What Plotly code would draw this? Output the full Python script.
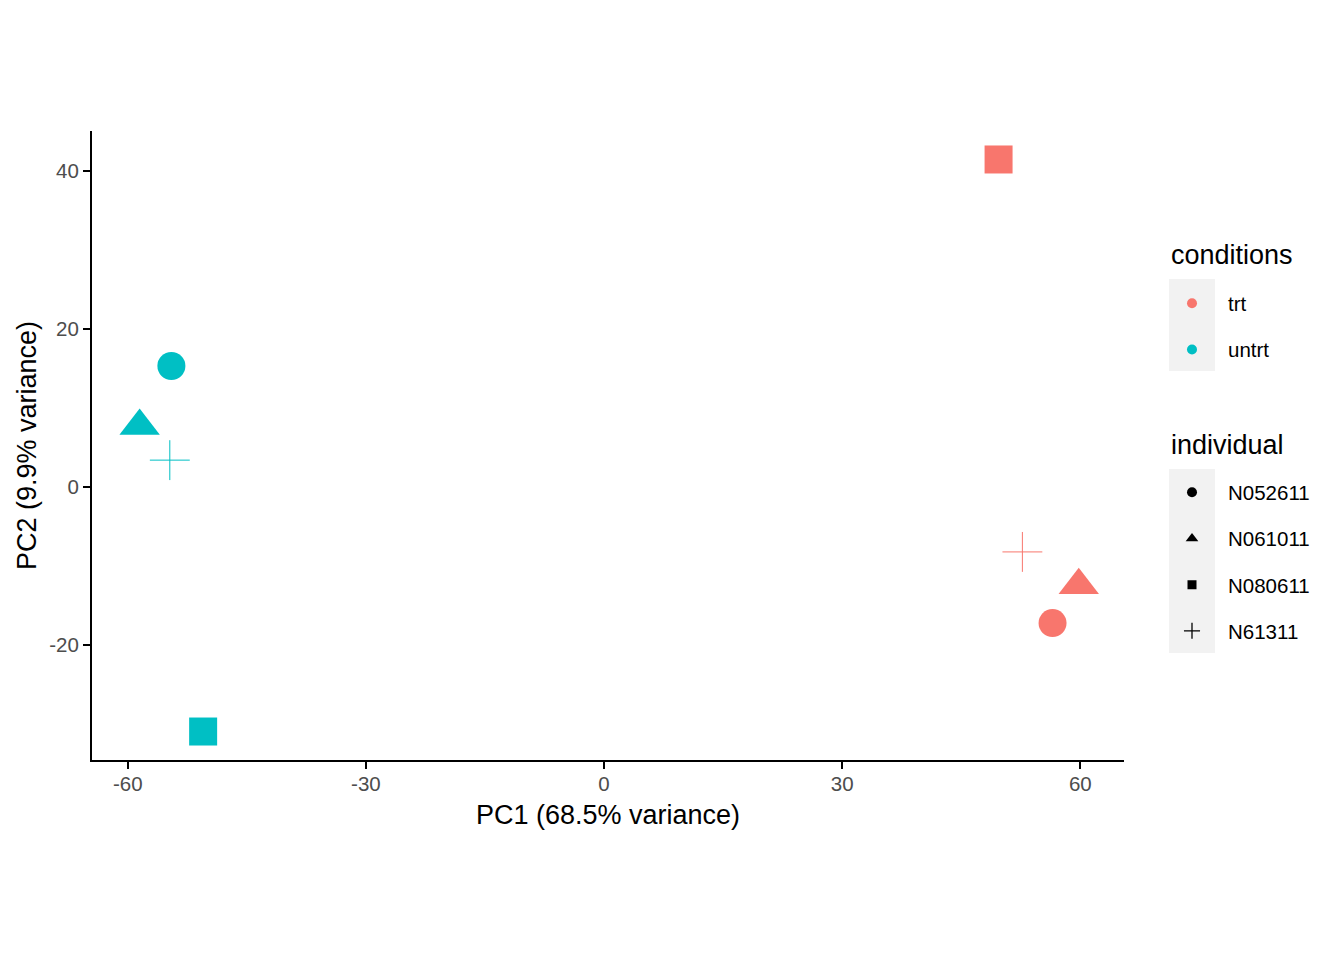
import plotly.graph_objects as go

# ---- data ----
conditions = ["trt", "trt", "trt", "trt", "untrt", "untrt", "untrt", "untrt"]
individuals = ["N052611", "N061011", "N080611", "N61311",
               "N052611", "N061011", "N080611", "N61311"]
pc1 = [56.5, 59.8, 49.7, 52.7, -54.5, -58.5, -50.5, -54.7]
pc2 = [-17.2, -12.4, 41.4, -8.2, 15.3, 7.7, -30.9, 3.4]

condition_levels = ["trt", "untrt"]
individual_levels = ["N052611", "N061011", "N080611", "N61311"]
x_ticks = [-60, -30, 0, 30, 60]
x_tick_labels = ["-60", "-30", "0", "30", "60"]
y_ticks = [-20, 0, 20, 40]
y_tick_labels = ["-20", "0", "20", "40"]
x_title = "PC1 (68.5% variance)"
y_title = "PC2 (9.9% variance)"
legend1_title = "conditions"
legend2_title = "individual"

# ---- styles ----
cond_colors = {"trt": "#F8766D", "untrt": "#00BFC4"}
ind_symbol = {"N052611": "circle", "N061011": "triangle-up",
              "N080611": "square", "N61311": "cross-thin"}
ind_size = {"N052611": 28, "N061011": 35, "N080611": 28, "N61311": 28.5}
leg_size = {"N052611": 10, "N061011": 11, "N080611": 9, "N61311": 11.5}

FONT = "Liberation Sans, Arial, sans-serif"
OFF = 8  # page body margin
W, H = 1344 - OFF, 960 - OFF
L, T = 92 - OFF, 131 - OFF
pw, ph = 1032, 629
R, B = W - L - pw, H - T - ph


# helpers converting page pixel positions to paper coordinates
def px_x(p):
    return (p - OFF - L) / pw


def px_y(p):
    return (T + ph - (p - OFF)) / ph


fig = go.Figure()

for c in condition_levels:
    idx = [i for i, cc in enumerate(conditions) if cc == c]
    inds = [individuals[i] for i in idx]
    fig.add_trace(go.Scatter(
        x=[pc1[i] for i in idx], y=[pc2[i] for i in idx],
        mode="markers", showlegend=False, hoverinfo="x+y",
        marker=dict(
            color=cond_colors[c],
            symbol=[ind_symbol[s] for s in inds],
            size=[ind_size[s] for s in inds],
            line=dict(color=cond_colors[c],
                      width=[1 if s == "N61311" else 0 for s in inds]),
            opacity=1,
        ),
    ))

# legend entries: conditions
for c in condition_levels:
    fig.add_trace(go.Scatter(
        x=[None], y=[None], mode="markers", name=c, legend="legend",
        legendgroup=c,
        marker=dict(color=cond_colors[c], symbol="circle", size=10, line=dict(width=0)),
    ))
# legend entries: individual
for s in individual_levels:
    fig.add_trace(go.Scatter(
        x=[None], y=[None], mode="markers", name=s, legend="legend2",
        legendgroup=s,
        marker=dict(color="black", symbol=ind_symbol[s], size=leg_size[s],
                    line=dict(color="black", width=1.3 if s == "N61311" else 0)),
    ))

# grey legend key backgrounds
for (y0, y1) in [(279, 371), (469, 653)]:
    fig.add_shape(type="rect", xref="paper", yref="paper",
                  x0=px_x(1169), x1=px_x(1215), y0=px_y(y1), y1=px_y(y0),
                  fillcolor="#F2F2F2", line=dict(width=0), layer="below")

# legend titles
for text, yc in [(legend1_title, 255), (legend2_title, 445)]:
    fig.add_annotation(text=text, xref="paper", yref="paper",
                       x=px_x(1169), y=px_y(yc), xanchor="left", yanchor="middle",
                       showarrow=False, font=dict(family=FONT, size=27, color="black"))

axis_common = dict(
    showgrid=False, zeroline=False, showline=True, linecolor="black", linewidth=2,
    ticks="outside", ticklen=7, tickwidth=2, tickcolor="black",
    tickfont=dict(family=FONT, size=20.5, color="#4D4D4D"),
)

fig.update_layout(
    width=W, height=H,
    margin=dict(l=L, r=R, t=T, b=B, pad=0),
    paper_bgcolor="white", plot_bgcolor="white",
    font=dict(family=FONT, color="black"),
    xaxis=dict(range=[-64.5, 65.5], tickvals=x_ticks, ticktext=x_tick_labels,
               ticklabelstandoff=-3,
               title=dict(text=x_title, font=dict(family=FONT, size=27, color="black"), standoff=12),
               **axis_common),
    yaxis=dict(range=[-34.5, 45.0], tickvals=y_ticks, ticktext=y_tick_labels,
               title=dict(text=y_title, font=dict(family=FONT, size=27, color="black"), standoff=5),
               **axis_common),
    legend=dict(
        font=dict(family=FONT, size=20.5, color="black"),
        x=px_x(1156), y=px_y(283.5), xanchor="left", yanchor="top",
        bgcolor="rgba(0,0,0,0)", tracegroupgap=16.5, itemwidth=62,
    ),
    legend2=dict(
        font=dict(family=FONT, size=20.5, color="black"),
        x=px_x(1156), y=px_y(472.5), xanchor="left", yanchor="top",
        bgcolor="rgba(0,0,0,0)", tracegroupgap=16.5, itemwidth=62,
    ),
)

fig.write_html("out.html")
